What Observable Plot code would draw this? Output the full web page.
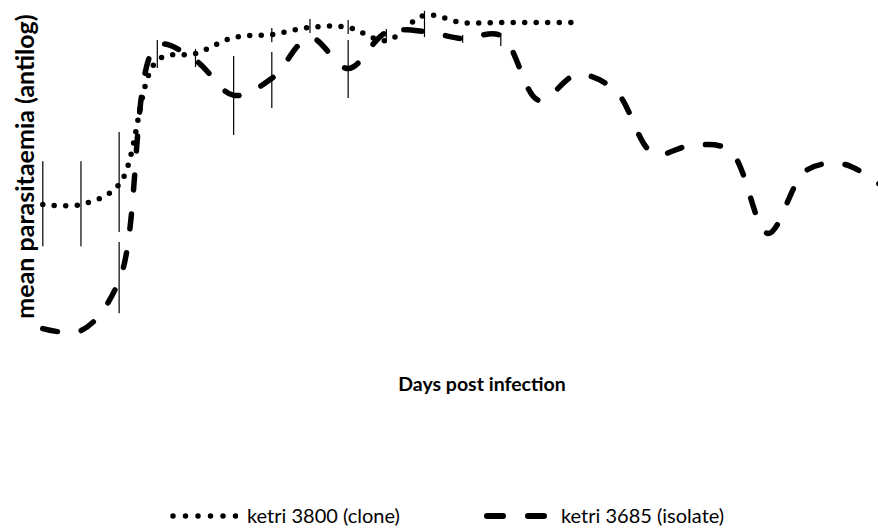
<!DOCTYPE html>
<html><head><meta charset="utf-8">
<script src="https://cdn.jsdelivr.net/npm/d3@7"></script>
<script src="https://cdn.jsdelivr.net/npm/@observablehq/plot@0.6"></script>
<style>
body{margin:0;background:#fff;overflow:hidden;}
#wrap{position:relative;width:878px;height:531px;background:#fff;font-family:Lato,"Open Sans",sans-serif;color:#000;}
#xlabel{position:absolute;left:0;width:878px;top:372px;text-align:center;font-weight:bold;font-size:19.5px;padding-left:86px;box-sizing:border-box;}
#legend{position:absolute;top:503px;left:0;width:878px;height:30px;}
.item{position:absolute;top:0;display:flex;align-items:center;font-size:20px;white-space:nowrap;}
.item svg{margin-right:9px;}
</style></head><body>
<div id="wrap"></div>
<script>
// Series names and axis titles
const seriesNames = ["ketri 3800 (clone)", "ketri 3685 (isolate)"];
const xTitle = "Days post infection";
const yTitle = "mean parasitaemia (antilog)";

// ketri 3800 (clone) – days 0..14
const cloneDays = [0,1,2,3,4,5,6,7,8,9,10,11,12,13,14];
const cloneValues = [4.00,4.00,4.59,8.24,8.44,8.91,9.00,9.21,9.21,8.82,9.56,9.35,9.35,9.35,9.35];

// ketri 3685 (isolate) – days 0..22
const isolateDays = [0,1,2,3,4,5,6,7,8,9,10,11,12,13,14,15,16,17,18,19,20,21,22];
const isolateValues = [0.35,0.29,1.76,8.68,8.24,7.21,7.71,8.91,8.00,9.06,9.09,8.88,8.97,7.06,7.82,7.35,5.50,5.74,5.59,3.15,5.00,5.18,4.53];

// error bars
const errDays = [0,1,2,2,3,4,5,6,6,7,8,8,9,10,11,12];
const errLow  = [2.76,2.76,3.18,0.79,8.00,8.03,6.03,8.76,6.82,9.03,9.00,7.12,8.74,8.91,8.74,8.65];
const errHigh = [5.26,5.26,6.12,2.88,8.82,8.56,8.35,9.18,8.47,9.44,9.41,8.82,9.15,9.68,8.97,9.03];

const clone = cloneDays.map((d,i)=>({day:d, v:cloneValues[i]}));
const isolate = isolateDays.map((d,i)=>({day:d, v:isolateValues[i]}));
const errs = errDays.map((d,i)=>({day:d, lo:errLow[i], hi:errHigh[i]}));

const chart = Plot.plot({
  width: 878,
  height: 345,
  marginTop: 0, marginBottom: 0, marginLeft: 0, marginRight: 0,
  style: {overflow: "hidden", background: "#fff"},
  x: {domain: [0, 22], range: [42.3, 882], axis: null},
  y: {domain: [0, 10], range: [340, 0], axis: null},
  marks: [
    Plot.ruleX(errs, {x: "day", y1: "lo", y2: "hi", stroke: "#000", strokeWidth: 1.2}),
    Plot.line(clone, {x: "day", y: "v", curve: "catmull-rom", stroke: "#000", strokeWidth: 5.5,
      strokeDasharray: "0 11.5", strokeLinecap: "round"}),
    Plot.line(isolate, {x: "day", y: "v", curve: "catmull-rom", stroke: "#000", strokeWidth: 5.5,
      strokeDasharray: "15 24", strokeLinecap: "round"}),
    Plot.text([yTitle], {frameAnchor: "top-left", dx: 25, dy: 166, rotate: -90, text: d => d,
      textAnchor: "middle", lineAnchor: "middle",
      fontWeight: "bold", fontSize: 25, fill: "#000", fontFamily: "Lato, 'Open Sans', sans-serif"})
  ]
});
const wrap = document.getElementById("wrap");
wrap.appendChild(chart);

const xl = document.createElement("div");
xl.id = "xlabel"; xl.textContent = xTitle;
wrap.appendChild(xl);

const lg = document.createElement("div");
lg.id = "legend";
const ns = "http://www.w3.org/2000/svg";
function swatch(dash){
  const s = document.createElementNS(ns, "svg");
  s.setAttribute("width", 68); s.setAttribute("height", 20);
  const l = document.createElementNS(ns, "line");
  l.setAttribute("x1", 3); l.setAttribute("x2", 66); l.setAttribute("y1", 11); l.setAttribute("y2", 11);
  l.setAttribute("stroke", "#000"); l.setAttribute("stroke-width", dash ? 6 : 5.5);
  l.setAttribute("stroke-linecap", "round");
  l.setAttribute("stroke-dasharray", dash ? "16 25" : "0 12.5");
  s.appendChild(l);
  return s;
}
[[seriesNames[0], false, 170], [seriesNames[1], true, 484]].forEach(([name, dash, left]) => {
  const it = document.createElement("div");
  it.className = "item"; it.style.left = left + "px";
  it.appendChild(swatch(dash));
  const t = document.createElement("span"); t.textContent = name;
  it.appendChild(t);
  lg.appendChild(it);
});
wrap.appendChild(lg);
</script>
</body></html>
